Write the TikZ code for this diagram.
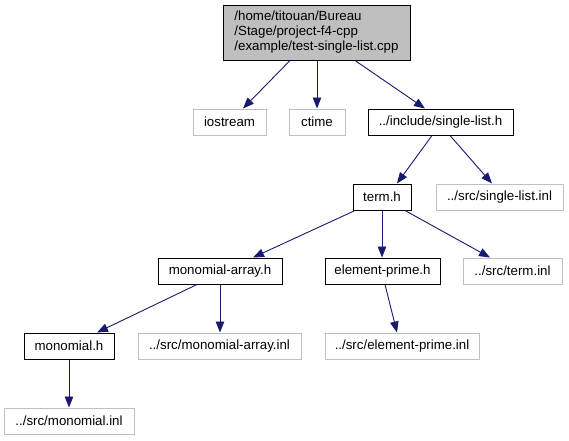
\documentclass[tikz,border=0pt]{standalone}
\usepackage{fontspec}
\setmainfont{Liberation Sans}
\usetikzlibrary{arrows.meta}
\definecolor{edgeblue}{HTML}{191970}
\definecolor{boxgray}{HTML}{BFBFBF}
\begin{document}
\begin{tikzpicture}[x=1pt,y=-1pt,
  box/.style={draw=black, line width=1pt, minimum height=26pt, inner sep=0pt, font=\fontsize{13.3}{15}\selectfont},
  ext/.style={box, draw=boxgray},
  edge/.style={draw=edgeblue, line width=0.9pt, -{Triangle[length=11pt,width=8.5pt]}}]
\useasboundingbox (0,0) rectangle (569,440);
\node[box, fill=boxgray, minimum width=187pt, minimum height=55pt, align=left] (root) at (316.5,32.5) {/home/titouan/Bureau\\/Stage/project-f4-cpp\\/example/test-single-list.cpp};
\node[ext, minimum width=73pt] (ios) at (229.5,122) {iostream};
\node[ext, minimum width=56pt] (ctime) at (317,122) {ctime};
\node[box, minimum width=145pt] (slh) at (440.5,122) {../include/single-list.h};
\node[box, minimum width=58pt] (term) at (382,197) {term.h};
\node[ext, minimum width=127pt] (sli) at (499.5,197) {../src/single-list.inl};
\node[box, minimum width=124pt] (ma) at (220,271) {monomial-array.h};
\node[box, minimum width=115pt] (ep) at (382.5,271) {element-prime.h};
\node[ext, minimum width=99pt] (ti) at (512.5,271) {../src/term.inl};
\node[box, minimum width=90pt] (mh) at (69,346) {monomial.h};
\node[ext, minimum width=163pt] (mai) at (219.5,346) {../src/monomial-array.inl};
\node[ext, minimum width=154pt] (epi) at (402,346) {../src/element-prime.inl};
\node[ext, minimum width=130pt] (mi) at (69,421) {../src/monomial.inl};
\draw[edge] ([xshift=-26.5pt]root.south) -- ([xshift=13.5pt]ios.north);
\draw[edge] ([xshift=0.5pt]root.south) -- (ctime.north);
\draw[edge] ([xshift=38.5pt]root.south) -- ([xshift=-15.5pt]slh.north);
\draw[edge] ([xshift=-8.5pt]slh.south) -- ([xshift=15pt]term.north);
\draw[edge] ([xshift=9.5pt]slh.south) -- ([xshift=-7.5pt]sli.north);
\draw[edge] ([xshift=-27pt]term.south) -- ([xshift=33pt]ma.north);
\draw[edge] (term.south) -- ([xshift=-0.5pt]ep.north);
\draw[edge] ([xshift=23pt]term.south) -- ([xshift=-22.5pt]ti.north);
\draw[edge] ([xshift=-23pt]ma.south) -- ([xshift=28pt]mh.north);
\draw[edge] (ma.south) -- ([xshift=0.5pt]mai.north);
\draw[edge] ([xshift=2.5pt]ep.south) -- ([xshift=-5pt]epi.north);
\draw[edge] (mh.south) -- (mi.north);
\end{tikzpicture}
\end{document}
